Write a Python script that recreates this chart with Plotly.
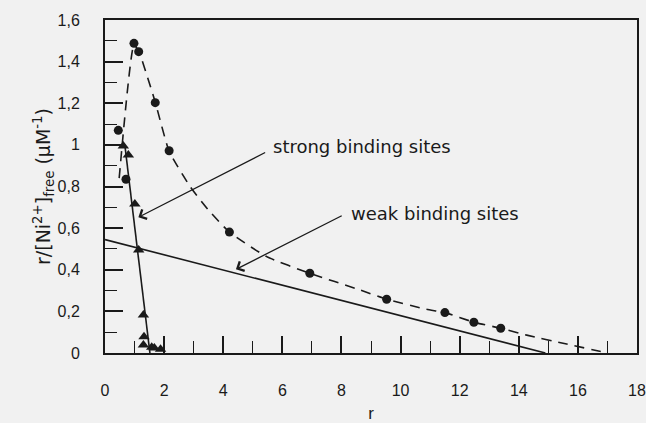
import plotly.graph_objects as go

# Scatchard data: r versus r/[Ni2+]free
circle_r = [0.45, 0.71, 0.98, 1.14, 1.70, 2.17, 4.21, 6.93, 9.53, 11.50, 12.48, 13.39]
circle_v = [1.07, 0.835, 1.488, 1.448, 1.203, 0.972, 0.581, 0.383, 0.258, 0.194, 0.148, 0.119]

triangle_r = [0.62, 0.79, 1.01, 1.14, 1.30, 1.32, 1.30, 1.58, 1.67, 1.88]
triangle_v = [0.995, 0.951, 0.716, 0.495, 0.183, 0.078, 0.038, 0.028, 0.024, 0.018]

# dashed overall curve
curve_r = [0.48, 0.98, 1.14, 1.69, 2.17, 2.88, 3.50, 4.21, 5.47, 6.93, 8.63, 9.53,
           10.88, 11.50, 12.48, 13.39, 14.27, 15.62, 17.0]
curve_v = [0.84, 1.48, 1.45, 1.21, 0.97, 0.80, 0.687, 0.581, 0.463, 0.383, 0.303, 0.258,
           0.21, 0.194, 0.148, 0.119, 0.086, 0.043, 0.0]

# linear fits for the two classes of sites
strong_r = [0.67, 1.52]
strong_v = [1.0, 0.0]
weak_r = [0.0, 14.9]
weak_v = [0.545, 0.0]

x_ticks = [0, 2, 4, 6, 8, 10, 12, 14, 16, 18]
y_ticks = [0, 0.2, 0.4, 0.6, 0.8, 1.0, 1.2, 1.4, 1.6]

INK = "#1a1a1a"
BG = "#f1f1f1"

fig = go.Figure()
fig.add_trace(go.Scatter(x=curve_r, y=curve_v, mode="lines",
                         line=dict(color=INK, width=1.6, dash="10px,7px", shape="spline", smoothing=0.5),
                         hoverinfo="skip"))
fig.add_trace(go.Scatter(x=weak_r, y=weak_v, mode="lines",
                         line=dict(color=INK, width=1.6)))
fig.add_trace(go.Scatter(x=strong_r, y=strong_v, mode="lines",
                         line=dict(color=INK, width=1.6)))
fig.add_trace(go.Scatter(x=circle_r, y=circle_v, mode="markers",
                         marker=dict(symbol="circle", size=9, color=INK)))
fig.add_trace(go.Scatter(x=triangle_r, y=triangle_v, mode="markers",
                         marker=dict(symbol="triangle-up", size=10, color=INK)))

arrow_style = dict(xref="x", yref="y", axref="x", ayref="y", showarrow=True,
                   arrowhead=4, arrowsize=1.6, arrowwidth=1.3, arrowcolor=INK, text="")
fig.add_annotation(x=1.13, y=0.652, ax=5.47, ay=0.967, **arrow_style)
fig.add_annotation(x=4.43, y=0.402, ax=8.06, ay=0.663, **arrow_style)

label_font = dict(family="DejaVu Sans", size=18, color=INK)
fig.add_annotation(x=5.62, y=0.993, xref="x", yref="y", text="strong binding sites",
                   showarrow=False, xanchor="left", yanchor="middle", font=label_font)
fig.add_annotation(x=8.26, y=0.672, xref="x", yref="y", text="weak binding sites",
                   showarrow=False, xanchor="left", yanchor="middle", font=label_font)

tick_font = dict(family="Arial", size=16, color=INK)
fig.update_layout(
    width=646, height=423,
    margin=dict(l=105, r=9, t=20, b=70),
    paper_bgcolor=BG, plot_bgcolor=BG,
    showlegend=False,
    separators=",.",
    font=tick_font,
    xaxis=dict(range=[0, 18], tickvals=x_ticks, ticks="inside", ticklen=17, tickwidth=1.5,
               tickcolor=INK, showgrid=False, zeroline=False, showline=True, linecolor=INK,
               linewidth=2, mirror=True, tickfont=tick_font, ticklabelstandoff=22,
               automargin=False,
               minor=dict(dtick=1, ticks="inside", ticklen=12, tickwidth=1.3, tickcolor=INK),
               title=dict(text="r", font=dict(family="Arial", size=17, color=INK),
                          standoff=17)),
    yaxis=dict(range=[0, 1.6], tickvals=y_ticks, ticks="inside", ticklen=18, tickwidth=1.5,
               tickcolor=INK, showgrid=False, zeroline=False, showline=True, linecolor=INK,
               linewidth=2, mirror=True, tickfont=tick_font, ticklabelstandoff=20,
               automargin=False,
               minor=dict(dtick=0.1, ticks="inside", ticklen=12, tickwidth=1.3, tickcolor=INK),
               title=dict(text="r/[Ni<sup>2+</sup>]<sub>free</sub> (μM<sup>-1</sup>)",
                          font=dict(family="DejaVu Sans", size=19, color=INK),
                          standoff=2)),
)

fig.write_html("out.html")
